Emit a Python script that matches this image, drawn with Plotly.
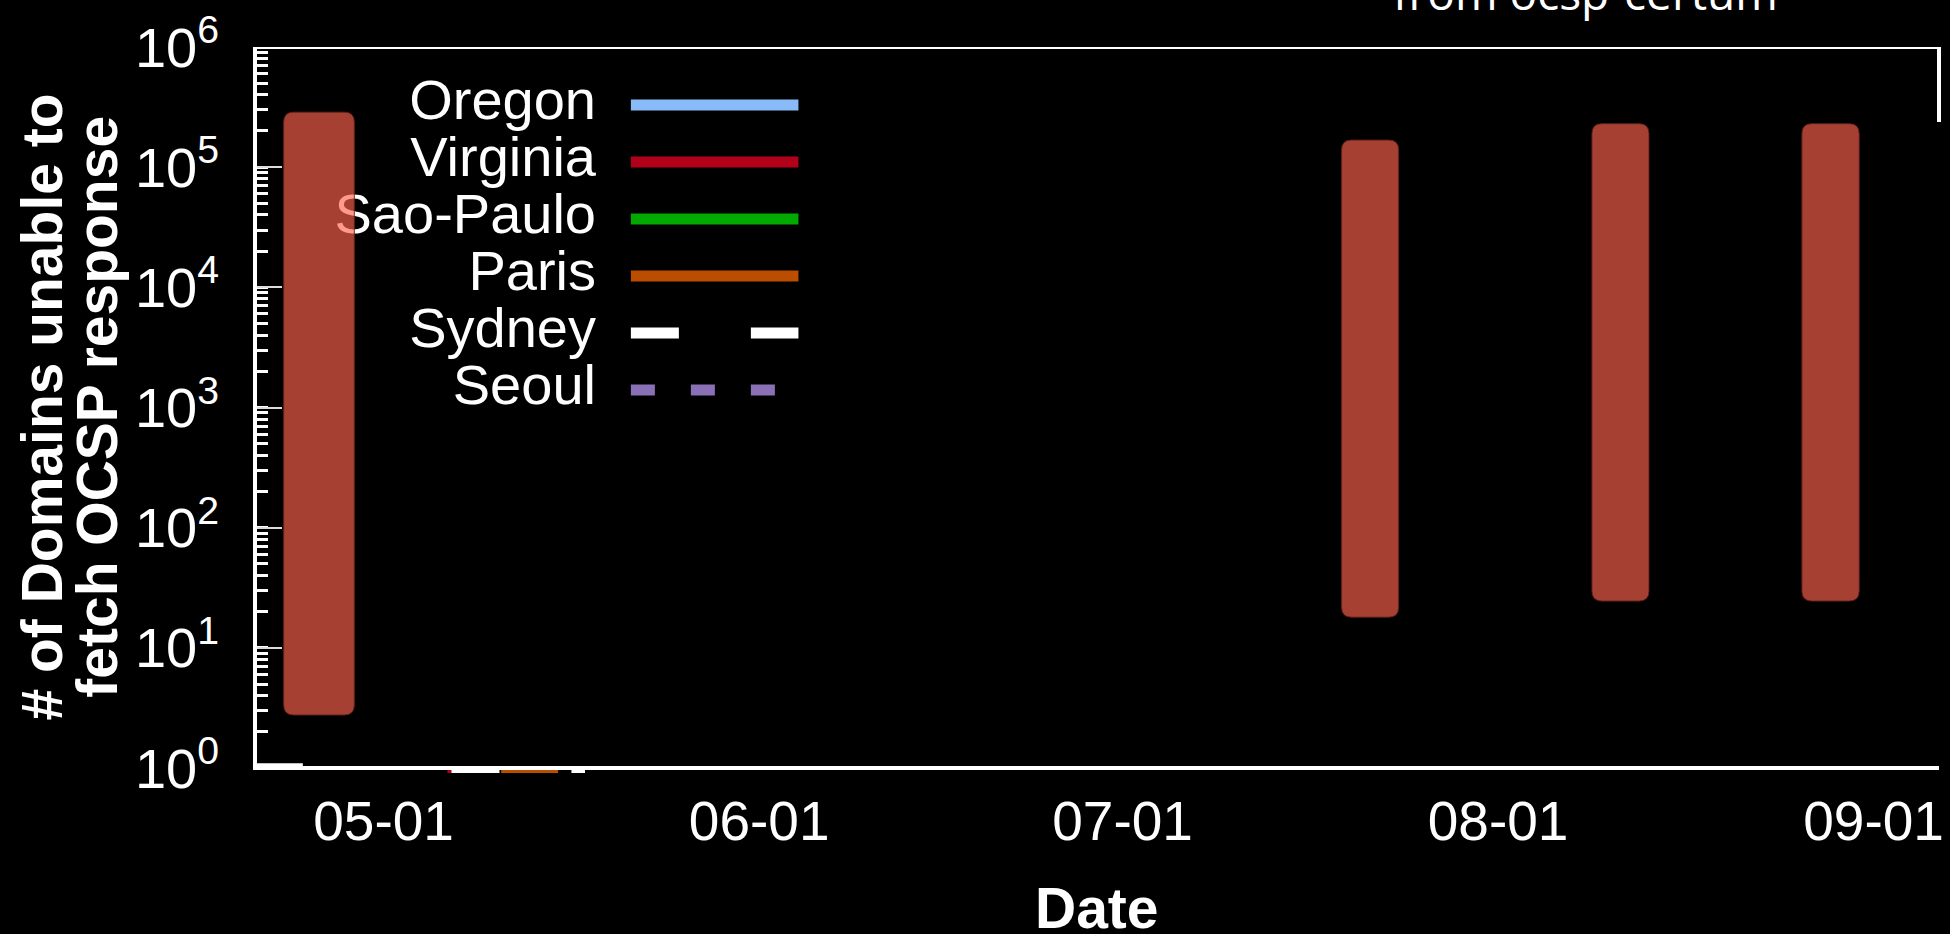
import pandas as pd
import plotly.graph_objects as go

# ---- vantage points and their line styles ----
regions = ['Oregon', 'Virginia', 'Sao-Paulo', 'Paris', 'Sydney', 'Seoul']
region_colors = ['#88BBF8', '#B0001A', '#00AA00', '#BB4D00', '#FFFFFF', '#8A70B5']
region_dashes = ['solid', 'solid', 'solid', 'solid', '48px,72px', '24px,36px']

# ---- domains unable to fetch an OCSP response, per vantage point ----
oregon_dates, oregon_counts = [], []
virginia_dates = ['2018-05-06 06:25', '2018-05-06 14:25']
virginia_counts = [0.94, 0.94]
saopaulo_dates, saopaulo_counts = [], []
paris_dates = ['2018-05-07 14:00', '2018-05-08 17:45', None,
               '2018-05-10 17:00', '2018-05-15 09:40']
paris_counts = [0.94, 0.94, None, 0.94, 0.94]
sydney_dates = ['2018-04-20 13:10', '2018-04-24 08:00', None,
                '2018-05-06 14:25', '2018-05-17 15:00']
sydney_counts = [1.06, 1.06, None, 0.94, 0.94]
seoul_dates, seoul_counts = [], []

series_dates = [oregon_dates, virginia_dates, saopaulo_dates,
                paris_dates, sydney_dates, seoul_dates]
series_counts = [oregon_counts, virginia_counts, saopaulo_counts,
                 paris_counts, sydney_counts, seoul_counts]

# ---- ocsp-certum outage windows ----
outage_start = ['2018-04-22 18:00', '2018-07-19 02:00', '2018-08-08 18:00', '2018-08-26 02:00']
outage_end = ['2018-04-28 14:00', '2018-07-23 19:00', '2018-08-13 11:00', '2018-08-30 19:30']
outage_low = [2.76, 18.0, 24.5, 24.5]
outage_high = [287000, 168000, 230000, 230000]

# ---- axis ticks ----
x_tick_dates = ['2018-05-01', '2018-06-01', '2018-07-01', '2018-08-01', '2018-09-01']
x_tick_labels = ['05-01', '06-01', '07-01', '08-01', '09-01']
y_tick_values = [1, 10, 100, 1000, 10000, 100000, 1000000]
y_tick_labels = ['10<sup>%d</sup>' % k for k in range(7)]

FONT = 'Liberation Sans'

fig = go.Figure()

for name, color, dash, xs, ys in zip(regions, region_colors, region_dashes,
                                     series_dates, series_counts):
    fig.add_trace(go.Scatter(
        x=xs, y=ys, mode='lines', name=name,
        line=dict(color=color, width=3.5, dash=dash),
        connectgaps=False, showlegend=False, hoverinfo='skip'))

# hand-built key: right-aligned names followed by line samples
key_top, key_step = 0.9202, 0.0784
key_text_x, key_line_x0, key_line_x1 = 0.2025, 0.2232, 0.3227
for i, (name, color, dash) in enumerate(zip(regions, region_colors, region_dashes)):
    ry = key_top - i * key_step
    fig.add_trace(go.Scatter(
        x=[key_line_x0, key_line_x1], y=[ry, ry], mode='lines',
        line=dict(color=color, width=11, dash=dash),
        xaxis='x2', yaxis='y2', showlegend=False, hoverinfo='skip'))
fig.add_trace(go.Scatter(
    x=[key_text_x] * len(regions),
    y=[key_top - i * key_step for i in range(len(regions))],
    mode='text', text=regions, textposition='middle left',
    textfont=dict(family=FONT, size=56, color='white'),
    xaxis='x2', yaxis='y2', showlegend=False, hoverinfo='skip', cliponaxis=False))


def rounded_box(x0, x1, y0, y1, rx=pd.Timedelta(hours=19.5), ry=1.21):
    f = lambda t: t.strftime('%Y-%m-%d_%H:%M:%S')
    a, b = pd.Timestamp(x0), pd.Timestamp(x1)
    return (f"M{f(a + rx)},{y0} L{f(b - rx)},{y0} Q{f(b)},{y0} {f(b)},{y0 * ry} "
            f"L{f(b)},{y1 / ry} Q{f(b)},{y1} {f(b - rx)},{y1} "
            f"L{f(a + rx)},{y1} Q{f(a)},{y1} {f(a)},{y1 / ry} "
            f"L{f(a)},{y0 * ry} Q{f(a)},{y0} {f(a + rx)},{y0} Z")


shapes = []
for s, e, lo, hi in zip(outage_start, outage_end, outage_low, outage_high):
    shapes.append(dict(type='path', xref='x', yref='y', layer='above',
                       path=rounded_box(s, e, lo, hi),
                       fillcolor='rgba(255,99,77,0.647)',
                       line=dict(color='rgba(100,32,24,0.9)', width=1)))

# plot border: top, left, bottom and a short stub on the right
frame = dict(color='white', width=4)
shapes += [
    dict(type='line', xref='paper', yref='y', x0=-0.0012, x1=1.0012, y0=1e6, y1=1e6, line=frame, layer='above'),
    dict(type='line', xref='paper', yref='y', x0=0, x1=0, y0=1, y1=1e6, line=frame, layer='above'),
    dict(type='line', xref='paper', yref='y', x0=-0.0012, x1=1, y0=1, y1=1, line=frame, layer='above'),
    dict(type='line', xref='paper', yref='paper', x0=1, x1=1, y0=0.8968, y1=1.0, line=frame, layer='above'),
]

annotations = [
    dict(text='Date', xref='paper', yref='paper', x=0.5, y=-0.185,
         xanchor='center', yanchor='middle', showarrow=False,
         font=dict(family=FONT, size=57, color='white', weight='bold')),
    dict(text='# of Domains unable to', xref='paper', yref='paper', x=-0.1262, y=0.5048,
         xanchor='center', yanchor='middle', showarrow=False, textangle=-90,
         font=dict(family=FONT, size=57, color='white', weight='bold')),
    dict(text='fetch OCSP response', xref='paper', yref='paper', x=-0.0940, y=0.5048,
         xanchor='center', yanchor='middle', showarrow=False, textangle=-90,
         font=dict(family=FONT, size=57, color='white', weight='bold')),
    dict(text='from ocsp-certum', xref='paper', yref='paper', x=0.790, y=1,
         xanchor='center', yanchor='bottom', yshift=22, showarrow=False,
         font=dict(family='Open Sans', size=46, color='white')),
]

fig.update_layout(
    width=1950, height=934,
    margin=dict(l=255, r=6, t=47, b=160),
    paper_bgcolor='black', plot_bgcolor='black',
    showlegend=False,
    shapes=shapes, annotations=annotations,
    xaxis=dict(type='date', range=['2018-04-20 09:12', '2018-09-06 09:36'],
               tickmode='array', tickvals=x_tick_dates, ticktext=x_tick_labels,
               ticks='', showgrid=False, zeroline=False, showline=False,
               ticklabelstandoff=10,
               tickfont=dict(family=FONT, size=55, color='white')),
    yaxis=dict(type='log', range=[-0.05, 6],
               tickmode='array', tickvals=y_tick_values, ticktext=y_tick_labels,
               ticks='inside', ticklen=27, tickwidth=1.5, tickcolor='#dddddd',
               minor=dict(ticks='inside', ticklen=13, tickwidth=2.5,
                          tickcolor='white', dtick='D1', showgrid=False),
               showgrid=False, zeroline=False, showline=False,
               ticklabelstandoff=35,
               tickfont=dict(family=FONT, size=56, color='white')),
    xaxis2=dict(overlaying='x', range=[0, 1], visible=False),
    yaxis2=dict(overlaying='y', range=[0, 1], visible=False),
)

fig.write_html('out.html')
